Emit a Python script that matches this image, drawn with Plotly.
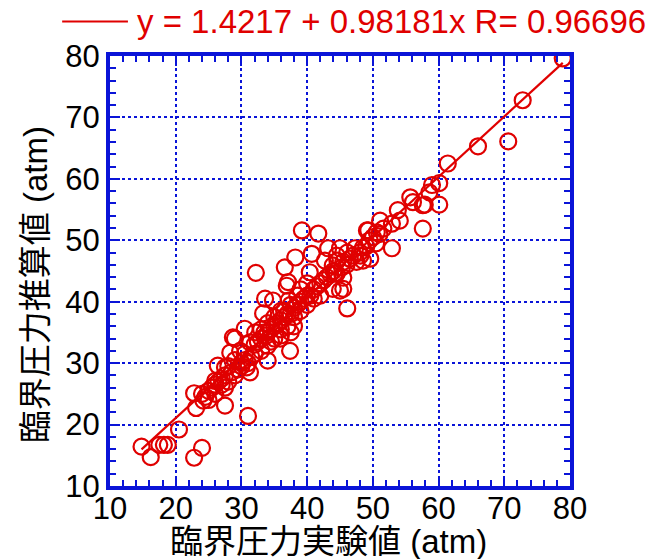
import plotly.graph_objects as go

# 臨界圧力実験値 (atm)
x_exp = [78.9, 72.8, 70.6, 66.0, 61.4, 60.1, 59.0, 58.6, 57.9, 60.1, 57.6,
         57.6, 55.7, 56.1, 53.8, 54.1, 51.1, 51.6, 52.9, 49.3, 50.6, 52.9, 48.5, 47.3, 46.1, 45.0,
         48.1, 48.5, 49.6, 44.6, 45.3, 44.2, 45.5, 43.9, 45.5, 46.1,
         39.2, 41.7, 38.2, 36.6, 37.1, 40.7, 40.4, 43.2, 42.7, 43.9, 44.5, 45.0, 49.1,
         36.9, 34.8, 33.3, 30.5, 29.0, 32.1, 33.8, 35.9, 37.4, 34.0, 31.3, 29.8, 28.3, 27.5,
         26.4, 30.8, 31.3, 26.0, 27.5, 27.5, 31.0,
         14.8, 16.2, 17.5, 18.2, 18.8, 20.5, 22.8, 24.0, 22.8, 23.1, 24.2, 28.7, 32.2,
         33.6, 37.2, 34.0, 36.0,
         24.0, 24.5, 25.0, 25.5, 26.0, 26.5, 27.0, 27.5, 25.0, 26.0, 28.0, 28.5, 27.0, 29.0,
         29.5, 30.0, 30.5, 30.0, 31.0, 31.5, 30.5, 29.0, 28.0,
         32.0, 32.5, 33.0, 33.5, 34.0, 34.5, 35.0, 35.5, 36.0, 36.5, 37.0, 37.5, 38.0, 38.5,
         39.0, 39.5, 40.0, 40.5, 41.0, 41.5, 42.0, 42.5, 43.0, 43.5, 44.0, 35.0, 36.0, 37.0,
         38.0, 39.0, 40.0, 36.5, 37.5, 38.5, 34.0, 33.0, 35.0, 36.0, 37.5, 38.0, 39.0, 40.0,
         41.0, 42.0, 32.0, 33.0, 34.5,
         46.0, 46.5, 47.0, 47.5, 48.0, 49.0, 49.5, 50.0, 50.5, 51.0, 44.5, 45.5]

# 臨界圧力推算値 (atm)
y_est = [79.6, 72.8, 66.1, 65.3, 62.5, 59.3, 59.0, 57.8, 55.8, 55.8, 51.9,
         55.7, 57.0, 56.2, 54.9, 53.2, 53.2, 51.9, 52.7, 51.6, 51.3, 48.7, 48.8, 48.7, 48.0, 48.7,
         47.5, 46.7, 47.0, 46.7, 45.6, 44.6, 43.9, 42.1, 42.1, 38.9,
         51.6, 51.1, 47.2, 45.6, 43.2, 47.8, 44.8, 48.7, 46.7, 45.9, 44.6, 41.8, 51.6,
         42.6, 40.2, 38.1, 35.6, 34.0, 35.0, 34.5, 34.0, 32.0, 32.8, 33.4, 32.0, 31.7, 29.3,
         29.6, 29.3, 28.5, 27.1, 26.0, 23.1, 21.4,
         16.4, 14.7, 16.7, 16.7, 16.7, 19.2, 14.6, 16.2, 25.1, 22.7, 23.9, 34.2, 44.7,
         40.5, 40.2, 30.4, 38.5,
         25.0, 24.5, 25.5, 26.0, 26.5, 27.0, 27.5, 28.0, 24.0, 25.0, 27.0, 28.5, 26.5, 28.0,
         29.0, 30.0, 30.5, 29.5, 30.0, 31.0, 31.5, 30.5, 29.5,
         33.0, 33.5, 34.0, 35.0, 35.0, 35.5, 36.0, 36.5, 37.0, 37.5, 38.0, 38.0, 39.0, 39.5,
         40.0, 40.5, 41.0, 41.0, 42.0, 42.5, 43.0, 43.5, 44.0, 44.5, 45.0, 37.5, 35.5, 36.0,
         37.5, 38.5, 39.5, 38.5, 39.5, 41.0, 36.5, 35.5, 34.0, 34.5, 35.0, 36.0, 42.0, 43.0,
         40.5, 41.0, 31.5, 32.0, 33.5,
         46.0, 47.0, 47.5, 46.5, 48.0, 49.0, 50.0, 50.5, 49.5, 51.0, 47.5, 46.5]

intercept = 1.4217
slope = 0.98181
r_value = 0.96696

x_ticks = [10, 20, 30, 40, 50, 60, 70, 80]
y_ticks = [10, 20, 30, 40, 50, 60, 70, 80]

x_title = "臨界圧力実験値 (atm)"
y_title = "臨界圧力推算値 (atm)"

RED = "#e00000"
BLUE = "#0a14d8"
FONT = "Liberation Sans, Arial, Noto Sans CJK JP, sans-serif"

fit_x = [min(x_exp), max(x_exp)]
fit_y = [intercept + slope * v for v in fit_x]

fig = go.Figure()
fig.add_trace(go.Scatter(
    x=fit_x, y=fit_y, mode="lines",
    line=dict(color=RED, width=2.2), showlegend=False, hoverinfo="skip"))
fig.add_trace(go.Scatter(
    x=x_exp, y=y_est, mode="markers",
    marker=dict(symbol="circle-open", size=16, color=RED, line=dict(width=2.2, color=RED)),
    showlegend=False))

axis_common = dict(
    range=[10, 80], tickmode="array",
    showline=True, linecolor=BLUE, linewidth=4, mirror="allticks",
    ticks="inside", ticklen=10, tickwidth=2, tickcolor=BLUE,
    showgrid=True, gridcolor=BLUE, gridwidth=1.6, griddash="dot",
    zeroline=False,
    tickfont=dict(family=FONT, size=31, color="black"),
    minor=dict(ticks="inside", ticklen=6, tickwidth=2, tickcolor=BLUE, dtick=2, showgrid=False),
)

fig.update_xaxes(**axis_common, tickvals=x_ticks, ticklabelstandoff=-8)
fig.update_yaxes(**axis_common, tickvals=y_ticks, ticklabelstandoff=0)

fig.add_annotation(xref="paper", yref="paper", x=0.474, y=-0.13, xanchor="center", yanchor="middle",
                   text=x_title, showarrow=False, font=dict(family=FONT, size=33, color="black"))
fig.add_annotation(xref="paper", yref="paper", x=-0.163, y=0.467, xanchor="center", yanchor="middle",
                   text=y_title, textangle=-90, showarrow=False, font=dict(family=FONT, size=33, color="black"))

fig.add_shape(type="line", xref="paper", yref="paper",
              x0=-0.104, x1=0.039, y0=1.08, y1=1.08, line=dict(color=RED, width=2))
fig.add_annotation(xref="paper", yref="paper", x=0.055, y=1.08, xanchor="left", yanchor="middle",
                   text=f"y = {intercept} + {slope}x R= {r_value}", showarrow=False,
                   font=dict(family=FONT, size=33, color=RED))

fig.update_layout(
    width=650, height=559,
    margin=dict(l=110, r=80, t=56, b=73, autoexpand=False),
    plot_bgcolor="white", paper_bgcolor="white",
)

fig.write_html("out.html")
